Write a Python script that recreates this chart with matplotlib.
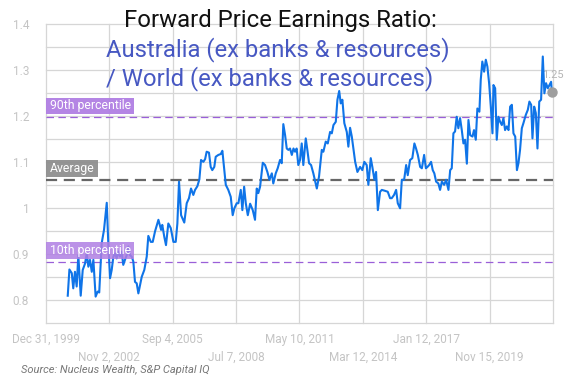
import matplotlib
matplotlib.use("Agg")
import matplotlib.pyplot as plt
import matplotlib.transforms as mtransforms
from matplotlib.patches import Rectangle
import pandas as pd
import numpy as np

plt.rcParams['font.family'] = ['Roboto', 'DejaVu Sans']

dates = [
    "2000-12-24", "2001-01-20", "2001-02-28", "2001-03-24", "2001-04-21", "2001-05-19",
    "2001-06-15", "2001-07-24", "2001-08-26", "2001-10-03", "2001-10-30", "2001-11-26",
    "2001-12-23", "2002-01-21", "2002-02-16", "2002-03-25", "2002-04-27", "2002-05-23",
    "2002-07-02", "2002-08-09", "2002-09-23", "2002-10-18", "2002-11-16", "2002-12-13",
    "2003-01-09", "2003-02-06", "2003-03-04", "2003-03-30", "2003-04-27", "2003-05-24",
    "2003-06-20", "2003-07-18", "2003-08-15", "2003-09-11", "2003-10-08", "2003-11-06",
    "2003-12-02", "2003-12-29", "2004-01-26", "2004-02-22", "2004-03-20", "2004-04-17",
    "2004-05-29", "2004-07-08", "2004-08-03", "2004-09-12", "2004-10-14", "2004-11-21",
    "2005-01-15", "2005-02-28", "2005-03-19", "2005-04-21", "2005-05-19", "2005-06-26",
    "2005-08-05", "2005-09-17", "2005-10-25", "2005-11-21", "2005-12-18", "2006-01-21",
    "2006-03-14", "2006-04-23", "2006-05-30", "2006-07-02", "2006-08-09", "2006-09-06",
    "2006-10-14", "2006-11-16", "2006-12-13", "2007-01-20", "2007-02-18", "2007-03-15",
    "2007-04-22", "2007-05-20", "2007-06-15", "2007-07-18", "2007-08-10", "2007-09-22",
    "2007-11-01", "2007-11-27", "2007-12-24", "2008-01-22", "2008-03-03", "2008-04-12",
    "2008-05-14", "2008-06-10", "2008-07-19", "2008-08-15", "2008-09-23", "2008-10-19",
    "2008-11-17", "2008-12-14", "2009-01-16", "2009-02-23", "2009-04-07", "2009-05-14",
    "2009-06-11", "2009-07-07", "2009-08-05", "2009-09-18", "2009-10-25", "2009-12-02",
    "2010-01-05", "2010-02-13", "2010-03-09", "2010-04-18", "2010-05-20", "2010-06-27",
    "2010-07-25", "2010-08-20", "2010-09-18", "2010-10-15", "2010-11-11", "2010-12-08",
    "2011-01-06", "2011-02-02", "2011-02-28", "2011-03-26", "2011-04-22", "2011-05-20",
    "2011-06-17", "2011-07-13", "2011-08-22", "2011-09-17", "2011-10-15", "2011-11-17",
    "2011-12-24", "2012-02-19", "2012-03-26", "2012-05-10", "2012-06-05", "2012-07-14",
    "2012-08-16", "2012-09-23", "2012-10-21", "2012-11-17", "2012-12-25", "2013-01-21",
    "2013-02-19", "2013-03-16", "2013-04-12", "2013-05-14", "2013-06-23", "2013-07-19",
    "2013-08-16", "2013-09-13", "2013-11-07", "2013-12-14", "2014-01-27", "2014-03-04",
    "2014-04-06", "2014-05-15", "2014-06-11", "2014-07-20", "2014-08-15", "2014-09-18",
    "2014-10-15", "2014-11-13", "2014-12-20", "2015-01-17", "2015-03-10", "2015-04-24",
    "2015-06-01", "2015-06-28", "2015-08-05", "2015-09-08", "2015-10-05", "2015-11-12",
    "2015-12-10", "2016-01-17", "2016-02-19", "2016-03-16", "2016-04-23", "2016-05-30",
    "2016-07-03", "2016-07-30", "2016-08-28", "2016-10-05", "2016-11-02", "2016-12-09",
    "2017-01-07", "2017-02-02", "2017-03-01", "2017-04-02", "2017-04-29", "2017-05-25",
    "2017-06-23", "2017-07-30", "2017-08-27", "2017-09-25", "2017-11-02", "2017-12-04",
    "2018-01-11", "2018-02-08", "2018-03-06", "2018-04-02", "2018-04-29", "2018-05-26",
    "2018-06-22", "2018-07-20", "2018-08-17", "2018-09-13", "2018-10-10", "2018-11-08",
    "2018-12-04", "2019-01-01", "2019-02-08", "2019-03-05", "2019-04-03", "2019-04-29",
    "2019-06-01", "2019-06-23", "2019-07-19", "2019-08-17", "2019-09-14", "2019-10-10",
    "2019-11-07", "2019-12-05", "2020-01-01", "2020-01-17", "2020-02-14", "2020-03-11",
    "2020-04-07", "2020-05-05", "2020-06-02", "2020-06-28", "2020-07-25", "2020-08-23",
    "2020-09-19", "2020-10-16", "2020-11-13", "2020-12-09", "2021-01-07", "2021-02-04",
    "2021-03-01", "2021-03-27", "2021-04-25", "2021-05-21", "2021-06-29", "2021-08-01",
    "2021-08-27", "2021-09-25", "2021-10-16", "2021-11-13", "2021-12-10", "2022-01-06",
    "2022-02-04", "2022-03-06", "2022-04-03", "2022-04-29", "2022-05-26", "2022-06-24",
    "2022-07-20", "2022-08-17", "2022-08-30",
]

ratio = [
    0.810, 0.867, 0.859, 0.826, 0.862, 0.830,
    0.898, 0.810, 0.866, 0.880, 0.902, 0.873,
    0.888, 0.862, 0.888, 0.808, 0.819, 0.817,
    0.924, 0.953, 1.012, 0.924, 0.848, 0.866,
    0.895, 0.902, 0.891, 0.906, 0.895, 0.906,
    0.877, 0.888, 0.898, 0.917, 0.898, 0.895,
    0.884, 0.840, 0.837, 0.815, 0.833, 0.851,
    0.866, 0.895, 0.940, 0.927, 0.927, 0.950,
    0.975, 0.953, 0.964, 0.938, 0.920, 0.967,
    0.957, 0.927, 0.927, 0.967, 1.058, 0.985,
    0.969, 1.011, 1.022, 1.043, 1.029, 1.040,
    1.048, 1.063, 1.105, 1.101, 1.107, 1.123,
    1.121, 1.090, 1.083, 1.090, 1.112, 1.116,
    1.118, 1.125, 1.090, 1.051, 1.040, 1.025,
    0.985, 1.000, 1.011, 1.011, 1.040, 0.996,
    1.047, 1.011, 0.985, 1.010, 0.996, 0.975,
    1.043, 1.033, 1.047, 1.099, 1.094, 1.079,
    1.062, 1.076, 1.054, 1.076, 1.087, 1.105,
    1.098, 1.183, 1.159, 1.130, 1.127, 1.130,
    1.116, 1.130, 1.123, 1.130, 1.094, 1.105,
    1.141, 1.094, 1.152, 1.127, 1.098, 1.094,
    1.076, 1.043, 1.069, 1.127, 1.123, 1.145,
    1.141, 1.166, 1.163, 1.181, 1.188, 1.236,
    1.255, 1.228, 1.236, 1.185, 1.166, 1.134,
    1.175, 1.156, 1.101, 1.079, 1.090, 1.083,
    1.101, 1.094, 1.051, 1.109, 1.090, 1.062,
    1.079, 0.996, 1.036, 1.040, 1.038, 1.036,
    1.022, 1.022, 1.029, 1.040, 1.011, 1.000,
    1.062, 1.062, 1.094, 1.072, 1.105, 1.109,
    1.141, 1.130, 1.116, 1.090, 1.087, 1.116,
    1.087, 1.090, 1.094, 1.101, 1.083, 1.076,
    1.058, 1.054, 1.040, 1.058, 1.051, 1.062,
    1.040, 1.083, 1.087, 1.163, 1.167, 1.199,
    1.174, 1.196, 1.170, 1.141, 1.149, 1.097,
    1.192, 1.159, 1.156, 1.170, 1.149, 1.217,
    1.210, 1.279, 1.319, 1.297, 1.323, 1.308,
    1.272, 1.221, 1.163, 1.268, 1.261, 1.149,
    1.199, 1.188, 1.181, 1.196, 1.170, 1.178,
    1.170, 1.221, 1.225, 1.163, 1.156, 1.083,
    1.098, 1.127, 1.174, 1.185, 1.203, 1.214,
    1.232, 1.225, 1.152, 1.221, 1.207, 1.130,
    1.232, 1.236, 1.330, 1.250, 1.272, 1.261,
    1.268, 1.275, 1.252,
]

pct90 = 1.198
average = 1.062
pct10 = 0.884
last_label = "1.25"

tick_start = "1999-12-31"
tick_step_days = 1037
tick_labels = ["Dec 31, 1999", "Nov 2, 2002", "Sep 4, 2005", "Jul 7, 2008",
               "May 10, 2011", "Mar 12, 2014", "Jan 12, 2017", "Nov 15, 2019", ""]
y_ticks = [0.8, 0.9, 1.0, 1.1, 1.2, 1.3, 1.4]
y_tick_labels = ["0.8", "0.9", "1", "1.1", "1.2", "1.3", "1.4"]

title_line1 = "Forward Price Earnings Ratio:"
title_line2 = "Australia (ex banks & resources)"
title_line3 = "/ World (ex banks & resources)"
source = "Source: Nucleus Wealth, S&P Capital IQ"

W, H = 573, 382
fig = plt.figure(figsize=(W / 100, H / 100), dpi=100)
ax = fig.add_axes([45.8 / W, 1 - 323.3 / H, (553 - 45.8) / W, (323.3 - 24.3) / H])

x = pd.to_datetime(dates)
tick_dates = [pd.Timestamp(tick_start) + pd.Timedelta(days=tick_step_days * k)
              for k in range(len(tick_labels))]

ax.set_xlim(tick_dates[0], tick_dates[-1])
ax.set_ylim(0.75, 1.4)

grid_c = "#d6d6d6"
for t in tick_dates:
    ax.axvline(t, color=grid_c, lw=0.9, zorder=0, clip_on=False)
for v in np.arange(0.75, 1.4001, 0.05):
    ax.axhline(v, color=grid_c, lw=0.9, zorder=0, clip_on=False)

for s in ax.spines.values():
    s.set_visible(False)
ax.set_xticks([])
ax.set_yticks(y_ticks)
ax.set_yticklabels(y_tick_labels)
ax.tick_params(axis='y', length=0, pad=12, labelsize=8.5, labelcolor="#c4c4c4")

# reference lines
ax.axhline(pct90, color="#9a5fd8", lw=0.9, dashes=(6, 3.5), zorder=2)
ax.axhline(average, color="#666666", lw=1.6, dashes=(5, 3), zorder=2)
ax.axhline(pct10, color="#9a5fd8", lw=0.9, dashes=(6, 3.5), zorder=2)

# series
ax.plot(x, ratio, color="#0f74e8", lw=1.5, zorder=3, solid_joinstyle="round")
ax.plot(x[-1:], ratio[-1:], "o", color="#9e9e9e", ms=6.5, zorder=4, clip_on=False)
ax.annotate(last_label, (x[-1], ratio[-1]), xytext=(1, 9), textcoords="offset points",
            ha="center", va="bottom", fontsize=8, color="#b5b5b5", zorder=2)

# label boxes
trans = mtransforms.blended_transform_factory(ax.transAxes, ax.transData)

def box(yval, text, color, alpha, w_px):
    ax_w_px = (553 - 45.8)
    r = Rectangle((0.0, yval + 3 / 460), w_px / ax_w_px, 16.5 / 460, transform=trans,
                  fc=color, ec="none", alpha=alpha, zorder=5)
    ax.add_patch(r)
    ax.text(4 / ax_w_px, yval + 3 / 460 + 8.5 / 460, text, transform=trans,
            ha="left", va="center", fontsize=8.8, color="white", zorder=6)

box(pct90, "90th percentile", "#b07fe3", 0.95, 88)
box(average, "Average", "#8f8f8f", 0.95, 52)
box(pct10, "10th percentile", "#b07fe3", 0.85, 88)

# x tick labels (staggered)
xtr = mtransforms.blended_transform_factory(ax.transData, fig.transFigure)
for k, (t, lab) in enumerate(zip(tick_dates, tick_labels)):
    if not lab:
        continue
    ypx = 339 if k % 2 == 0 else 357
    ax.text(t, 1 - ypx / H, lab, transform=xtr, ha="center", va="center",
            fontsize=8.5, color="#c4c4c4", clip_on=False)

# titles
fig.text(124 / W, 1 - 27.3 / H, title_line1, ha="left", va="baseline",
         fontsize=17.2, color="#111111")
fig.text(106 / W, 1 - 56.5 / H, title_line2, ha="left", va="baseline",
         fontsize=17.2, color="#4758c2")
fig.text(106 / W, 1 - 85 / H, title_line3, ha="left", va="baseline",
         fontsize=17.2, color="#4758c2")

fig.text(21 / W, 1 - 370 / H, source, ha="left", va="center", fontsize=8,
         style="italic", color="#777777")

fig.savefig("out.png", dpi=100)
